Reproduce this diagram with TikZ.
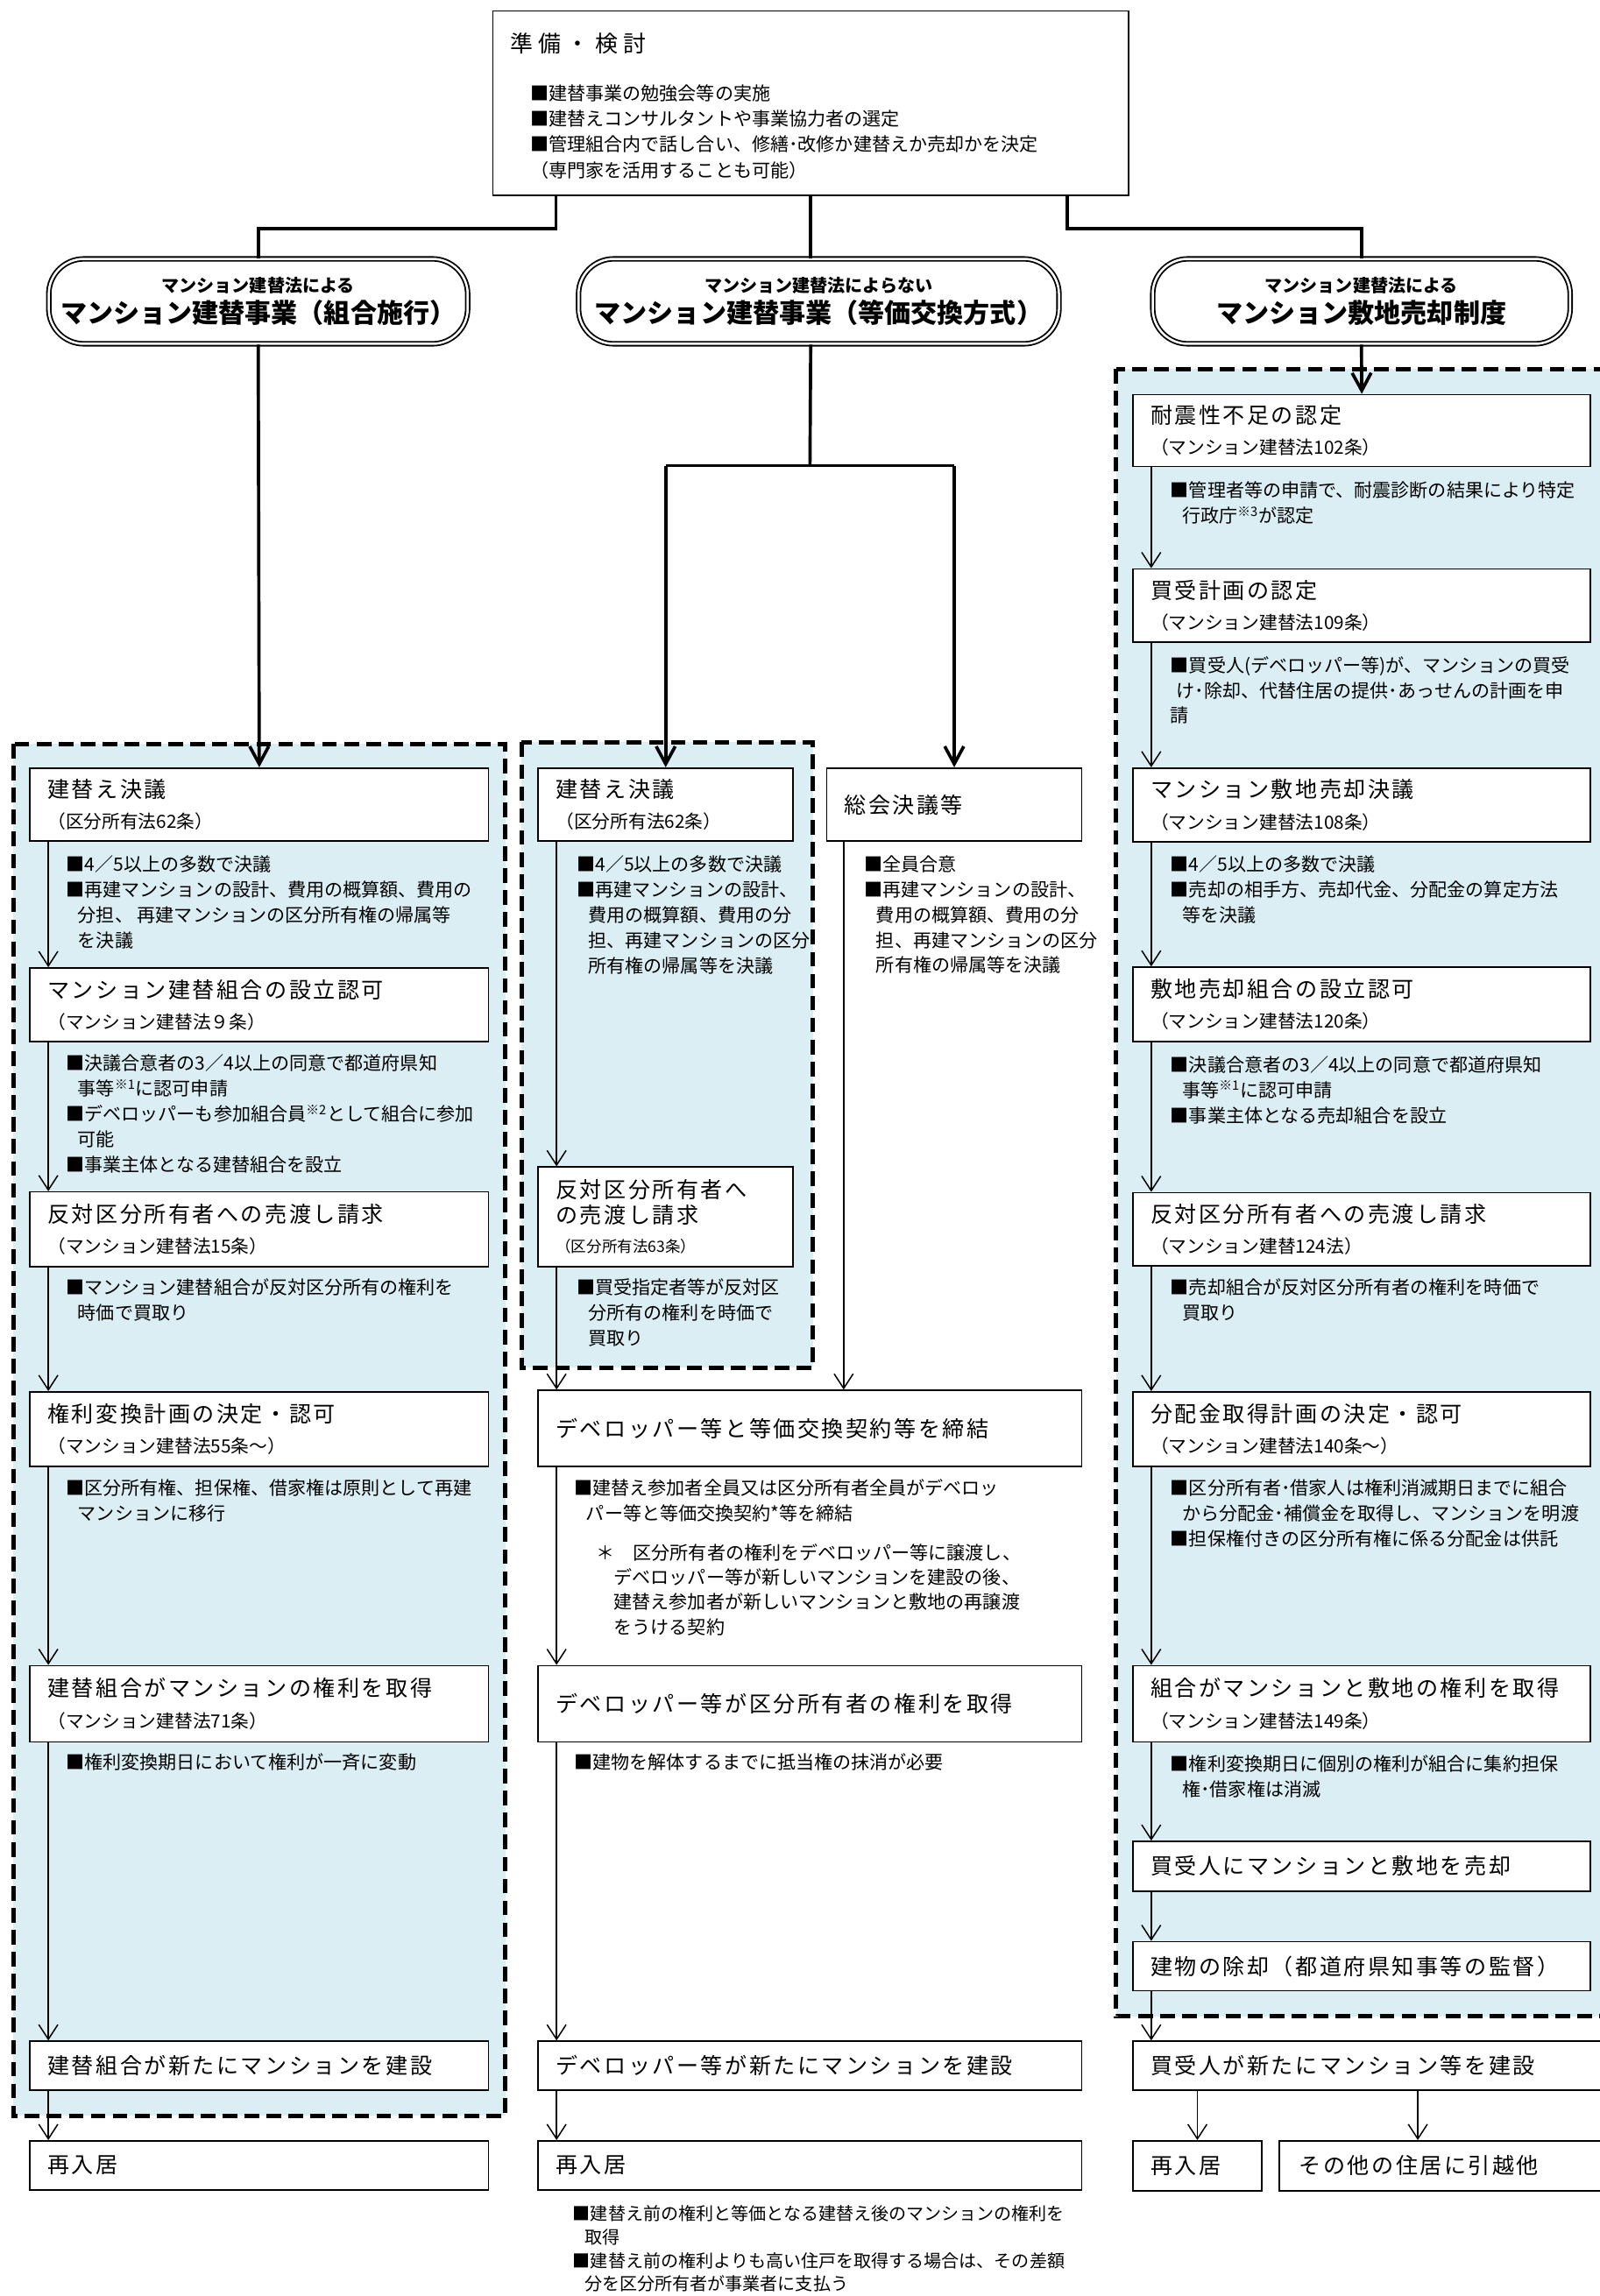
\documentclass[tikz,border=0pt]{standalone}
\usepackage{fontspec}
\setmainfont{Noto Sans CJK JP}
\newfontfamily\titlefam{Noto Sans CJK JP}[LetterSpace=10]
\newfontfamily\prepfam{Noto Sans CJK JP}[LetterSpace=25]
\usepackage{xcolor}
\usepackage{tikz}
\usetikzlibrary{arrows.meta,positioning,calc}
\setlength{\parindent}{0pt}
\definecolor{groupblue}{RGB}{218,238,243}
\newcommand{\stepfont}{\titlefam\fontsize{15}{21}\selectfont}
\newcommand{\lawref}[1]{{\normalfont\fontsize{12.4}{21}\selectfont #1}}
\newcommand{\notefont}{\fontsize{12.6}{17.3}\selectfont}
\newcommand{\ind}{\hspace*{8pt}}
\newcommand{\fn}[1]{\textsuperscript{※#1}}

\begin{document}
\begin{tikzpicture}[x=1pt, y=-1pt,
    stepbox/.style={draw, line width=1pt, fill=white, anchor=north west, inner xsep=12pt, inner ysep=0pt, align=left, font=\stepfont, text width=#1},
    stepbox/.default=289pt,
    lawbox/.style={draw, line width=1.1pt, double, double distance=1.5pt, rounded corners=24pt, fill=white, align=center, minimum height=58pt, inner sep=0pt, font=\bfseries\fontsize{18}{21}\selectfont},
    groupbox/.style={draw, line width=3pt, dash pattern=on 10pt off 5pt, fill=groupblue},
    note/.style={anchor=north west, inner sep=0pt, align=left, font=\notefont},
    flow/.style={-{Straight Barb[length=10pt, width=13pt]}, line width=0.9pt},
    mainline/.style={line width=2.2pt},
    mainflow/.style={mainline, -{Straight Barb[length=12pt, width=13pt]}}]
    \useasboundingbox (0,0) rectangle (1092,1568);

    % Dashed groups
    \draw[groupbox] (9,508) rectangle (345,1445);
    \draw[groupbox] (356,507) rectangle (555,934);
    \draw[groupbox] (762,252) rectangle (1110,1377);

    % Preparation
    \node[draw, line width=1pt, anchor=north west, minimum width=434pt, minimum height=126pt, inner sep=0pt] (prep) at (336,7) {};
    \node[anchor=west, inner sep=0pt, font=\prepfam\fontsize{15.5}{18}\selectfont] (prepttl) at (348,30) {準備・検討};
    \node[note, font=\fontsize{12.6}{17.6}\selectfont] (prepnote) at (362,57.4) {■建替事業の勉強会等の実施\\■建替えコンサルタントや事業協力者の選定\\■管理組合内で話し合い、修繕･改修か建替えか売却かを決定\\（専門家を活用することも可能）};

    % Three schemes
    \node[lawbox, minimum width=286pt] (lawA) at (176.3,205.8) {{\fontsize{12}{13}\selectfont マンション建替法による}\\マンション建替事業（組合施行）};
    \node[lawbox, minimum width=328pt] (lawB) at (559,205.8) {{\fontsize{12}{13}\selectfont マンション建替法によらない}\\マンション建替事業（等価交換方式）};
    \node[lawbox, minimum width=285pt] (lawC) at (929.5,205.8) {{\fontsize{12}{13}\selectfont マンション建替法による}\\マンション敷地売却制度};

    \draw[mainline] ([xshift=-174pt]prep.south) -- ++(0,22) -| (lawA.north);
    \draw[mainline] (prep.south) -- (prep.south |- lawB.north);
    \draw[mainline] ([xshift=175pt]prep.south) -- ++(0,22) -| (lawC.north);

    % Left column
    \node[stepbox, minimum height=50pt] (L1) at (20,524) {建替え決議\\\lawref{（区分所有法62条）}};
    \node[note] (L1note) at (45,584) {■4／5以上の多数で決議\\■再建マンションの設計、費用の概算額、費用の\\\ind 分担、 再建マンションの区分所有権の帰属等\\\ind を決議};
    \node[stepbox, minimum height=50.5pt] (L2) at (20,660.5) {マンション建替組合の設立認可\\\lawref{（マンション建替法９条）}};
    \node[note] (L2note) at (45,720) {■決議合意者の3／4以上の同意で都道府県知\\\ind 事等\fn{1}に認可申請\\■デベロッパーも参加組合員\fn{2}として組合に参加\\\ind 可能\\■事業主体となる建替組合を設立};
    \node[stepbox, minimum height=51pt] (L3) at (20,813.5) {反対区分所有者への売渡し請求\\\lawref{（マンション建替法15条）}};
    \node[note] (L3note) at (45,873) {■マンション建替組合が反対区分所有の権利を\\\ind 時価で買取り};
    \node[stepbox, minimum height=51pt] (L4) at (20,950) {権利変換計画の決定・認可\\\lawref{（マンション建替法55条～）}};
    \node[note] (L4note) at (45,1010) {■区分所有権、担保権、借家権は原則として再建\\\ind マンションに移行};
    \node[stepbox, minimum height=52pt] (L5) at (20,1137) {建替組合がマンションの権利を取得\\\lawref{（マンション建替法71条）}};
    \node[note] (L5note) at (45,1197.5) {■権利変換期日において権利が一斉に変動};
    \node[stepbox, minimum height=33.5pt] (L6) at (20,1393.5) {建替組合が新たにマンションを建設};
    \node[stepbox, minimum height=33.5pt] (L7) at (20,1461.5) {再入居};

    \draw[mainflow] (lawA.south) -- (L1.north);
    \draw[flow] ([xshift=13pt]L1.south west) -- ([xshift=13pt]L2.north west);
    \draw[flow] ([xshift=13pt]L2.south west) -- ([xshift=13pt]L3.north west);
    \draw[flow] ([xshift=13pt]L3.south west) -- ([xshift=13pt]L4.north west);
    \draw[flow] ([xshift=13pt]L4.south west) -- ([xshift=13pt]L5.north west);
    \draw[flow] ([xshift=13pt]L5.south west) -- ([xshift=13pt]L6.north west);
    \draw[flow] ([xshift=13pt]L6.south west) -- ([xshift=13pt]L7.north west);

    % Middle column
    \node[stepbox=150pt, minimum height=50pt] (M1) at (367,524) {建替え決議\\\lawref{（区分所有法62条）}};
    \node[note] (M1note) at (393.6,584) {■4／5以上の多数で決議\\■再建マンションの設計、\\\ind 費用の概算額、費用の分\\\ind 担、再建マンションの区分\\\ind 所有権の帰属等を決議};
    \node[stepbox=150pt, minimum height=50pt] (vote) at (564,524) {総会決議等};
    \node[note] (votenote) at (590,584) {■全員合意\\■再建マンションの設計、\\\ind 費用の概算額、費用の分\\\ind 担、再建マンションの区分\\\ind 所有権の帰属等を決議};
    \node[stepbox=150pt, minimum height=68pt, font=\titlefam\fontsize{15}{17.5}\selectfont] (M2) at (367,796.5) {反対区分所有者へ\\の売渡し請求\\[2.3pt]{\normalfont\fontsize{10.5}{12}\selectfont （区分所有法63条）}};
    \node[note] (M2note) at (393.6,873) {■買受指定者等が反対区\\\ind 分所有の権利を時価で\\\ind 買取り};
    \node[stepbox=347pt, minimum height=52pt] (M3) at (367,949) {デベロッパー等と等価交換契約等を締結};
    \node[note] (M3note) at (392,1010) {■建替え参加者全員又は区分所有者全員がデベロッ\\\ind パー等と等価交換契約*等を締結};
    \node[note, font=\fontsize{12.6}{17}\selectfont] (M3star) at (407,1054) {＊　区分所有者の権利をデベロッパー等に譲渡し、\\\hspace*{12pt}デベロッパー等が新しいマンションを建設の後、\\\hspace*{12pt}建替え参加者が新しいマンションと敷地の再譲渡\\\hspace*{12pt}をうける契約};
    \node[stepbox=347pt, minimum height=52pt] (M4) at (367,1137) {デベロッパー等が区分所有者の権利を取得};
    \node[note] (M4note) at (392,1197.5) {■建物を解体するまでに抵当権の抹消が必要};
    \node[stepbox=347pt, minimum height=33.5pt] (M5) at (367,1393.5) {デベロッパー等が新たにマンションを建設};
    \node[stepbox=347pt, minimum height=33.5pt] (M6) at (367,1461.5) {再入居};
    \node[note, font=\fontsize{12}{16}\selectfont] (M6note) at (391,1506) {■建替え前の権利と等価となる建替え後のマンションの権利を\\\ind 取得\\■建替え前の権利よりも高い住戸を取得する場合は、その差額\\\ind 分を区分所有者が事業者に支払う};

    \coordinate (split) at (553,318);
    \draw[mainline] (prep.south |- lawB.south) -- (split);
    \draw[mainline] (M1.north |- split) -- (vote.north |- split);
    \draw[mainflow] (M1.north |- split) -- (M1.north);
    \draw[mainflow] (vote.north |- split) -- (vote.north);
    \draw[flow] ([xshift=13pt]M1.south west) -- ([xshift=13pt]M2.north west);
    \draw[flow] ([xshift=13pt]M2.south west) -- ([xshift=13pt]M3.north west);
    \draw[flow] ([xshift=12pt]vote.south west) -- ([xshift=209pt]M3.north west);
    \draw[flow] ([xshift=13pt]M3.south west) -- ([xshift=13pt]M4.north west);
    \draw[flow] ([xshift=13pt]M4.south west) -- ([xshift=13pt]M5.north west);
    \draw[flow] ([xshift=13pt]M5.south west) -- ([xshift=13pt]M6.north west);

    % Right column
    \node[stepbox=288.5pt, minimum height=49pt] (R1) at (773,269) {耐震性不足の認定\\\lawref{（マンション建替法102条）}};
    \node[note] (R1note) at (799,328.8) {■管理者等の申請で、耐震診断の結果により特定\\\ind 行政庁\fn{3}が認定};
    \node[stepbox=288.5pt, minimum height=50pt] (R2) at (773,388) {買受計画の認定\\\lawref{（マンション建替法109条）}};
    \node[note] (R2note) at (799,448) {■買受人(デベロッパー等)が、マンションの買受\\\hspace*{4pt}け･除却、代替住居の提供･あっせんの計画を申\\請};
    \node[stepbox=288.5pt, minimum height=50.5pt] (R3) at (773,524) {マンション敷地売却決議\\\lawref{（マンション建替法108条）}};
    \node[note] (R3note) at (799,584) {■4／5以上の多数で決議\\■売却の相手方、売却代金、分配金の算定方法\\\ind 等を決議};
    \node[stepbox=288.5pt, minimum height=51pt] (R4) at (773,660) {敷地売却組合の設立認可\\\lawref{（マンション建替法120条）}};
    \node[note] (R4note) at (799,721) {■決議合意者の3／4以上の同意で都道府県知\\\ind 事等\fn{1}に認可申請\\■事業主体となる売却組合を設立};
    \node[stepbox=288.5pt, minimum height=50pt] (R5) at (773,814) {反対区分所有者への売渡し請求\\\lawref{（マンション建替124法）}};
    \node[note] (R5note) at (799,873) {■売却組合が反対区分所有者の権利を時価で\\\ind 買取り};
    \node[stepbox=288.5pt, minimum height=51pt] (R6) at (773,950) {分配金取得計画の決定・認可\\\lawref{（マンション建替法140条～）}};
    \node[note] (R6note) at (799,1010) {■区分所有者･借家人は権利消滅期日までに組合\\\ind から分配金･補償金を取得し、マンションを明渡\\■担保権付きの区分所有権に係る分配金は供託};
    \node[stepbox=288.5pt, minimum height=52pt] (R7) at (773,1137) {組合がマンションと敷地の権利を取得\\\lawref{（マンション建替法149条）}};
    \node[note] (R7note) at (799,1198.6) {■権利変換期日に個別の権利が組合に集約担保\\\ind 権･借家権は消滅};
    \node[stepbox=288.5pt, minimum height=34pt] (R8) at (773,1257) {買受人にマンションと敷地を売却};
    \node[stepbox=288.5pt, minimum height=33.5pt] (R9) at (773,1325.5) {建物の除却（都道府県知事等の監督）};
    \node[stepbox=313pt, minimum height=33.5pt] (R10) at (773,1393.5) {買受人が新たにマンション等を建設};
    \node[stepbox=64pt, minimum height=34pt] (R11) at (773,1461.5) {再入居};
    \node[stepbox=213pt, minimum height=34pt, inner xsep=13.5pt] (R12) at (873,1461.5) {その他の住居に引越他};

    \draw[mainflow] (lawC.south) -- (R1.north);
    \draw[flow] ([xshift=13pt]R1.south west) -- ([xshift=13pt]R2.north west);
    \draw[flow] ([xshift=13pt]R2.south west) -- ([xshift=13pt]R3.north west);
    \draw[flow] ([xshift=13pt]R3.south west) -- ([xshift=13pt]R4.north west);
    \draw[flow] ([xshift=13pt]R4.south west) -- ([xshift=13pt]R5.north west);
    \draw[flow] ([xshift=13pt]R5.south west) -- ([xshift=13pt]R6.north west);
    \draw[flow] ([xshift=13pt]R6.south west) -- ([xshift=13pt]R7.north west);
    \draw[flow] ([xshift=13pt]R7.south west) -- ([xshift=13pt]R8.north west);
    \draw[flow] ([xshift=13pt]R8.south west) -- ([xshift=13pt]R9.north west);
    \draw[flow] ([xshift=13pt]R9.south west) -- ([xshift=13pt]R10.north west);
    \draw[flow] (R11.north |- R10.south) -- (R11.north);
    \draw[flow] ([xshift=95pt]R12.north west |- R10.south) -- ([xshift=95pt]R12.north west);
\end{tikzpicture}
\end{document}
